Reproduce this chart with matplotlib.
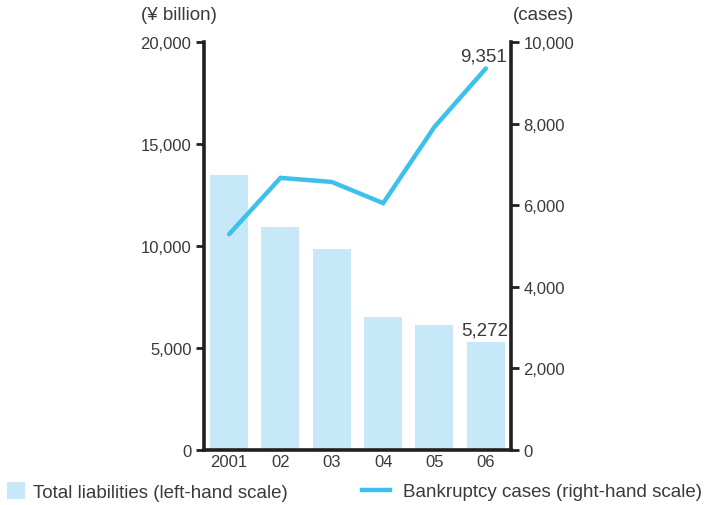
import matplotlib

matplotlib.use("Agg")
import matplotlib.pyplot as plt
from matplotlib.lines import Line2D
from matplotlib.patches import Patch
from matplotlib.ticker import FuncFormatter

plt.rcParams["font.family"] = ["Liberation Sans", "DejaVu Sans"]

years = ["2001", "02", "03", "04", "05", "06"]
liabilities = [13500, 10950, 9850, 6520, 6130, 5272]    # ¥ billion
cases = [5290, 6670, 6570, 6050, 7920, 9351]            # bankruptcy cases

BAR_C = "#c7e8f8"
LINE_C = "#3cc1ec"
TXT_C = "#3a3a3a"
FS = 12      # tick labels
FS_L = 13.5  # units, value labels, legend

fig = plt.figure(figsize=(7.1, 5.06), dpi=100)
ax = fig.add_axes([0.2873, 0.1087, 0.4324, 0.8063])
ax2 = ax.twinx()

x = list(range(len(years)))
ax.bar(x, liabilities, width=0.74, color=BAR_C, zorder=1)
ax2.plot(x, cases, color=LINE_C, lw=3.2, solid_capstyle="round",
         solid_joinstyle="miter", zorder=3)

ax.set_xlim(-0.49, len(years) - 0.51)
ax.set_ylim(0, 20000)
ax2.set_ylim(0, 10000)
ax.set_yticks(range(0, 20001, 5000))
ax2.set_yticks(range(0, 10001, 2000))

comma = FuncFormatter(lambda v, _: f"{int(v):,}")
ax.yaxis.set_major_formatter(comma)
ax2.yaxis.set_major_formatter(comma)
ax.set_xticks(x)
ax.set_xticklabels(years)

for a in (ax, ax2):
    a.spines["top"].set_visible(False)
    for side in ("left", "right", "bottom"):
        a.spines[side].set_linewidth(2.6)
        a.spines[side].set_color("#231f20")
    a.tick_params(axis="y", length=6, width=2, color="#231f20",
                  labelsize=FS, labelcolor=TXT_C, pad=3)
ax.spines["right"].set_visible(False)
ax2.spines["left"].set_visible(False)
ax2.spines["bottom"].set_visible(False)
ax.tick_params(axis="x", length=0, labelsize=FS, labelcolor=TXT_C, pad=3)
ax2.set_zorder(ax.get_zorder() + 1)
ax2.patch.set_visible(False)

# value labels for the latest year
ax2.annotate(f"{cases[-1]:,}", (x[-1], cases[-1]), xytext=(15.5, 3),
             textcoords="offset points", ha="right", va="bottom",
             fontsize=FS_L, color=TXT_C)
ax.annotate(f"{liabilities[-1]:,}", (x[-1], liabilities[-1]), xytext=(16, 2.5),
            textcoords="offset points", ha="right", va="bottom",
            fontsize=FS_L, color=TXT_C)

fig.text(0.199, 0.970, "(¥ billion)", fontsize=FS_L, color=TXT_C,
         ha="left", va="center")
fig.text(0.7225, 0.970, "(cases)", fontsize=FS_L, color=TXT_C,
         ha="left", va="center")

leg_kw = dict(loc="center left", frameon=False, fontsize=FS_L,
              labelcolor=TXT_C, borderpad=0, borderaxespad=0)
fig.legend([Patch(facecolor=BAR_C, edgecolor="none")],
           ["Total liabilities (left-hand scale)"],
           bbox_to_anchor=(0.0099, 0.026), handlelength=0.96,
           handleheight=1.0, handletextpad=0.43, **leg_kw)
fig.legend([Line2D([], [], color=LINE_C, lw=3.2)],
           ["Bankruptcy cases (right-hand scale)"],
           bbox_to_anchor=(0.51, 0.026), handlelength=1.5,
           handletextpad=0.7, **leg_kw)

fig.savefig("out.png", dpi=100)
